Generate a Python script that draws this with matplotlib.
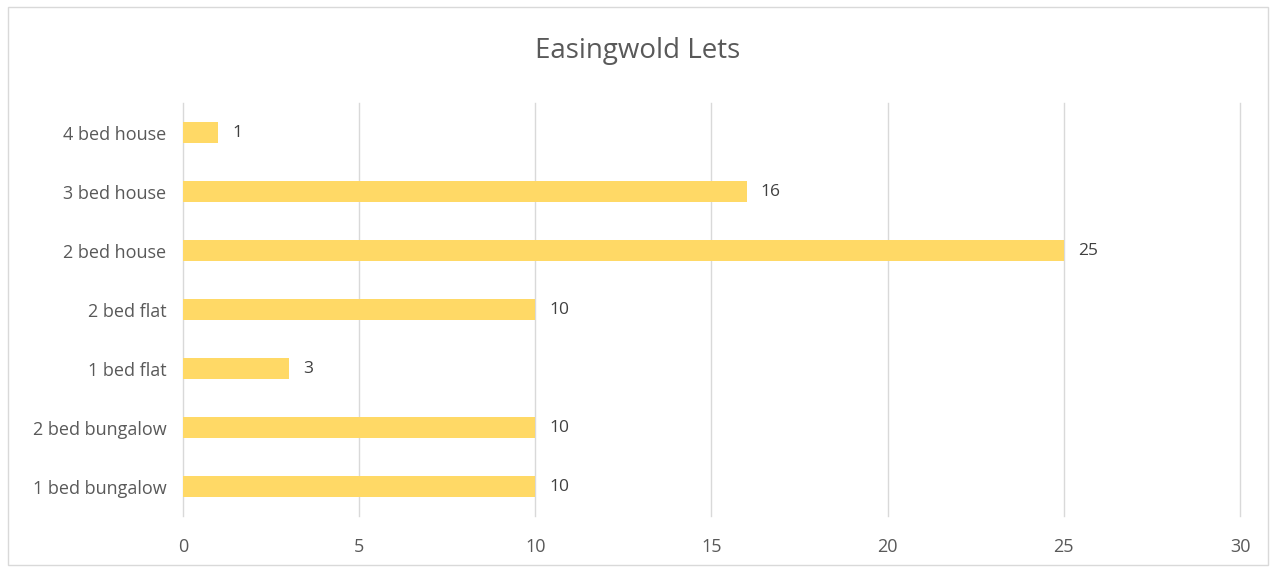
import matplotlib.pyplot as plt
from matplotlib.patches import Rectangle

# categories, bottom to top as drawn
categories = ['1 bed bungalow', '2 bed bungalow', '1 bed flat', '2 bed flat',
              '2 bed house', '3 bed house', '4 bed house']
lets = [10, 10, 3, 10, 25, 16, 1]
xticks = [0, 5, 10, 15, 20, 25, 30]

plt.rcParams['font.family'] = ['Open Sans', 'DejaVu Sans']

fig = plt.figure(figsize=(12.76, 5.71), dpi=100)
ax = fig.add_axes([0.1434, 0.0963, 0.8284, 0.7233])

ypos = range(len(categories))
ax.barh(ypos, lets, height=0.34, color='#FFD966', zorder=2)
for y, v in zip(ypos, lets):
    ax.text(v + 0.4, y, str(v), va='center', ha='left', fontsize=12.5, color='#404040')

ax.set_xlim(0, 30)
ax.set_ylim(-0.5, len(categories) - 0.5)
ax.set_xticks(xticks)
ax.set_yticks(list(ypos))
ax.set_yticklabels(categories)
ax.tick_params(axis='both', length=0, labelsize=13, labelcolor='#595959')
ax.tick_params(axis='x', pad=16)
ax.tick_params(axis='y', pad=12)
ax.grid(axis='x', color='#d9d9d9', linewidth=1, zorder=0)
for gl in ax.get_xgridlines():
    gl.set_clip_on(False)
for s in ax.spines.values():
    s.set_visible(False)

fig.text(0.5, 0.91, 'Easingwold Lets', ha='center', va='center',
         fontsize=20, color='#595959')

fig.patches.append(Rectangle((0.006, 0.01), 0.988, 0.978, transform=fig.transFigure,
                             fill=False, edgecolor='#d9d9d9', linewidth=1))

fig.savefig('out.png', dpi=100)
